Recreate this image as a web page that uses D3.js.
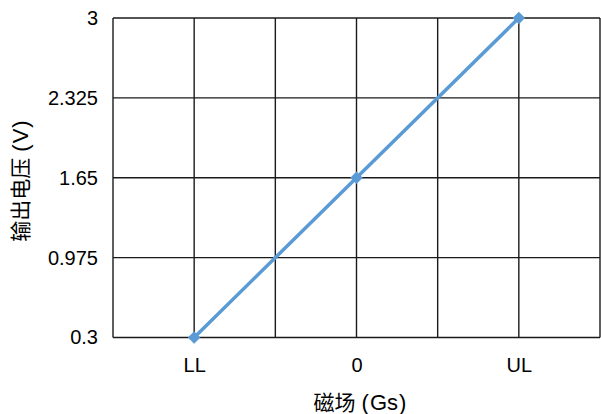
<!DOCTYPE html>
<html><head><meta charset="utf-8">
<script src="https://cdn.jsdelivr.net/npm/d3@7"></script>
<style>body{margin:0;background:#fff}svg{display:block}</style>
</head><body>
<svg id="c" width="601" height="414"></svg>
<script>
const categories = ["LL", "0", "UL"];
const categoryPos = [-1, 0, 1];
const values = [0.3, 1.65, 3];
const yTicks = [0.3, 0.975, 1.65, 2.325, 3];
const xGrid = [-1.5, -1, -0.5, 0, 0.5, 1, 1.5];
const xTitle = ["磁场", "(", "Gs", ")"];
const yTitle = ["输出电压", "(", "V", ")"];

(function () {
const svg = d3.select("#c");
const mLeft = 113, mRight = 600, mTop = 18, mBottom = 337.5;
const x = d3.scaleLinear().domain([-1.5, 1.5]).range([mLeft, mRight]);
const y = d3.scaleLinear().domain([0.3, 3]).range([mBottom, mTop]);
const latin = "'Liberation Sans', Arial, sans-serif";
const cjk = "'Noto Sans CJK SC', sans-serif";

const g = svg.append("g");
g.selectAll("line.h").data(yTicks).join("line").attr("class", "h")
  .attr("x1", mLeft).attr("x2", mRight)
  .attr("y1", d => y(d)).attr("y2", d => y(d))
  .attr("stroke", "#1a1a1a").attr("stroke-width", 1.4);
g.selectAll("line.v").data(xGrid).join("line").attr("class", "v")
  .attr("y1", mTop).attr("y2", mBottom)
  .attr("x1", d => x(d)).attr("x2", d => x(d))
  .attr("stroke", "#1a1a1a").attr("stroke-width", 1.4);

const yAxis = d3.axisLeft(y).tickValues(yTicks).tickSize(0).tickPadding(15).tickFormat(d => String(d));
svg.append("g").attr("transform", `translate(${mLeft},0)`).call(yAxis)
  .call(a => a.select(".domain").remove())
  .selectAll("text").attr("font-family", latin).attr("font-size", 20).attr("fill", "#000");

const xAxis = d3.axisBottom(x).tickValues(categoryPos).tickSize(0).tickPadding(20)
  .tickFormat((d, i) => categories[i]);
svg.append("g").attr("transform", `translate(0,${mBottom})`).call(xAxis)
  .call(a => a.select(".domain").remove())
  .selectAll("text").attr("font-family", latin).attr("font-size", 20).attr("fill", "#000");

const pts = categoryPos.map((p, i) => [p, values[i]]);
svg.append("path").datum(pts)
  .attr("d", d3.line().x(d => x(d[0])).y(d => y(d[1])))
  .attr("fill", "none").attr("stroke", "#5B9BD5").attr("stroke-width", 3.5);
svg.selectAll("path.m").data(pts).join("path").attr("class", "m")
  .attr("transform", d => `translate(${x(d[0])},${y(d[1])})`)
  .attr("d", d3.symbol().type(d3.symbolDiamond2).size(100))
  .attr("fill", "#5B9BD5");

function title(sel, parts) {
  const dxs = [0, 6, 1, 1];
  sel.selectAll("tspan").data(parts).join("tspan")
    .attr("dx", (d, i) => dxs[i])
    .attr("font-family", (d, i) => i === 0 ? cjk : latin)
    .attr("font-size", (d, i) => i === 0 ? 21 : 22)
    .text(d => d);
}
svg.append("text").attr("x", 360).attr("y", 410).attr("text-anchor", "middle")
  .attr("fill", "#000").call(title, xTitle);
svg.append("text").attr("transform", "translate(28,181) rotate(-90)").attr("text-anchor", "middle")
  .attr("fill", "#000").call(title, yTitle);
})();
</script>
</body></html>
